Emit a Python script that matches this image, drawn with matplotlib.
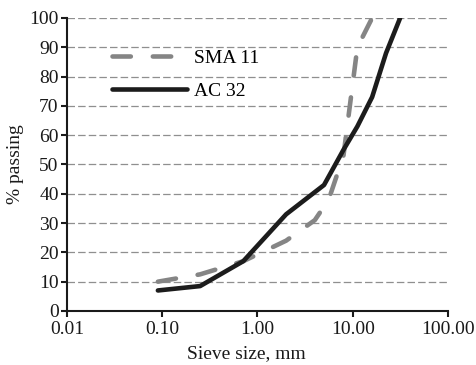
import matplotlib
matplotlib.use("Agg")
import matplotlib.pyplot as plt
from matplotlib.ticker import FixedLocator, FixedFormatter, NullLocator

# Data
sma_sieve = [0.09, 0.25, 0.71, 2.0, 4.0, 5.6, 8.0, 11.2, 16.0]
sma_pass = [10, 12.5, 17, 24, 31, 38, 53, 90, 100]
ac_sieve = [0.09, 0.25, 0.71, 2.0, 5.0, 8.0, 11.2, 16.0, 22.4, 31.5]
ac_pass = [7, 8.5, 17, 33, 43, 55, 63, 73, 88, 100]
x_ticks = [0.01, 0.1, 1, 10, 100]
x_labels = ["0.01", "0.10", "1.00", "10.00", "100.00"]
y_ticks = list(range(0, 101, 10))

plt.rcParams['font.family'] = ['Liberation Serif', 'DejaVu Serif']

fig = plt.figure(figsize=(4.77, 3.65), dpi=100)
ax = fig.add_axes([0.1405, 0.148, 0.7985, 0.8027])

for y in y_ticks[1:]:
    ax.axhline(y, color='#8f8f8f', lw=0.9, ls=(0, (6, 2.5)), zorder=1)

ax.plot(sma_sieve, sma_pass, color='#858585', lw=3.3, ls=(0, (4, 4.8)),
        solid_capstyle='round', dash_capstyle='round', label='SMA 11', zorder=3)
ax.plot(ac_sieve, ac_pass, color='#1c1c1c', lw=3.3, solid_capstyle='round',
        label='AC 32', zorder=4)

ax.set_xscale('log')
ax.set_xlim(0.01, 100)
ax.set_ylim(0, 100)
ax.xaxis.set_major_locator(FixedLocator(x_ticks))
ax.xaxis.set_major_formatter(FixedFormatter(x_labels))
ax.xaxis.set_minor_locator(NullLocator())
ax.set_yticks(y_ticks)

for s in ['top', 'right']:
    ax.spines[s].set_visible(False)
for s in ['left', 'bottom']:
    ax.spines[s].set_linewidth(1.5)
    ax.spines[s].set_color('#1a1a1a')
ax.tick_params(axis='both', direction='out', length=4, width=1.5, labelsize=14,
               colors='#1a1a1a', pad=2)
ax.tick_params(axis='x', pad=3)

ax.set_xlabel('Sieve size, mm', fontsize=14, color='#1a1a1a')
ax.set_ylabel('% passing', fontsize=14, color='#1a1a1a')
ax.xaxis.set_label_coords(0.47, -0.115)
ax.yaxis.set_label_coords(-0.112, 0.5)

leg = ax.legend(loc='upper left', bbox_to_anchor=(0.071, 0.952), frameon=False,
                fontsize=14, handlelength=3.9, handletextpad=0.36, labelspacing=0.76)

fig.savefig('out.png', dpi=100)
